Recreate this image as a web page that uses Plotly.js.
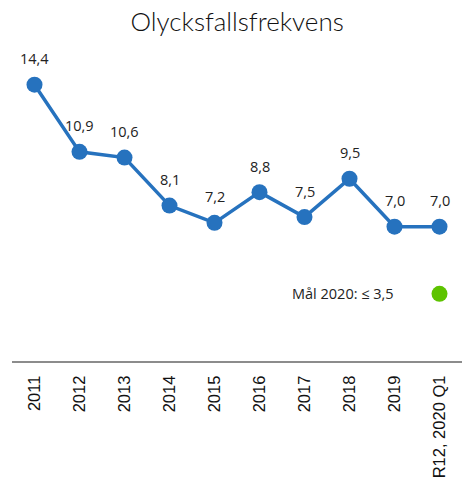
<!DOCTYPE html>
<html>
<head>
<meta charset="utf-8">
<script src="https://cdn.plot.ly/plotly-3.0.1.min.js"></script>
<style>html,body{margin:0;padding:0;background:#fff;}#chart{width:465px;height:481px;}</style>
</head>
<body>
<div id="chart"></div>
<script>
const categories = ["2011","2012","2013","2014","2015","2016","2017","2018","2019","R12, 2020 Q1"];
const frequency = [14.4, 10.9, 10.6, 8.1, 7.2, 8.8, 7.5, 9.5, 7.0, 7.0];
const goalIndex = 9;
const goalValue = [3.5];
const goalLabel = "Mål 2020: ≤ 3,5";

const traces = [
  {
    x: categories, y: frequency, type: "scatter", mode: "lines+markers",
    line: {color: "#2672BE", width: 3.5},
    marker: {color: "#2672BE", size: 16},
    cliponaxis: false, hoverinfo: "skip"
  },
  {
    x: [categories[goalIndex]], y: goalValue, type: "scatter", mode: "markers",
    marker: {color: "#5DC300", size: 16}, cliponaxis: false, hoverinfo: "skip"
  }
];

const labelFont = {family: "Open Sans, sans-serif", size: 14.5, color: "#222"};
const annotations = categories.map((c, i) => ({
  x: i, y: frequency[i], xref: "x", yref: "y",
  text: frequency[i].toFixed(1).replace(".", ","),
  showarrow: false, xanchor: "center", yanchor: "middle", yshift: 26,
  font: labelFont
}));
annotations.push({
  x: goalIndex, y: goalValue[0], xref: "x", yref: "y",
  text: goalLabel, showarrow: false, xanchor: "right", yanchor: "middle", xshift: -44,
  font: labelFont
});

const layout = {
  width: 465, height: 481,
  margin: {l: 12, r: 3, t: 54, b: 120},
  paper_bgcolor: "#fff", plot_bgcolor: "#fff",
  showlegend: false,
  title: {text: "Olycksfallsfrekvens", font: {family: "Lato, sans-serif", size: 26, weight: 300, color: "#111"}, x: 0.51, xanchor: "center", y: 0.955, yanchor: "middle"},
  xaxis: {
    type: "category", categoryorder: "array", categoryarray: categories,
    range: [-0.5, 9.5], showgrid: false, zeroline: false,
    showline: true, linecolor: "#8c8c8c", linewidth: 2,
    ticks: "", tickangle: -90, ticklabelstandoff: 6,
    tickfont: {family: "Liberation Sans, Arial, sans-serif", size: 16.5, color: "#111"},
    fixedrange: true
  },
  yaxis: {range: [0, 16], visible: false, showgrid: false, zeroline: false, fixedrange: true},
  annotations: annotations
};

Plotly.newPlot("chart", traces, layout, {staticPlot: true, displayModeBar: false});
</script>
</body>
</html>
